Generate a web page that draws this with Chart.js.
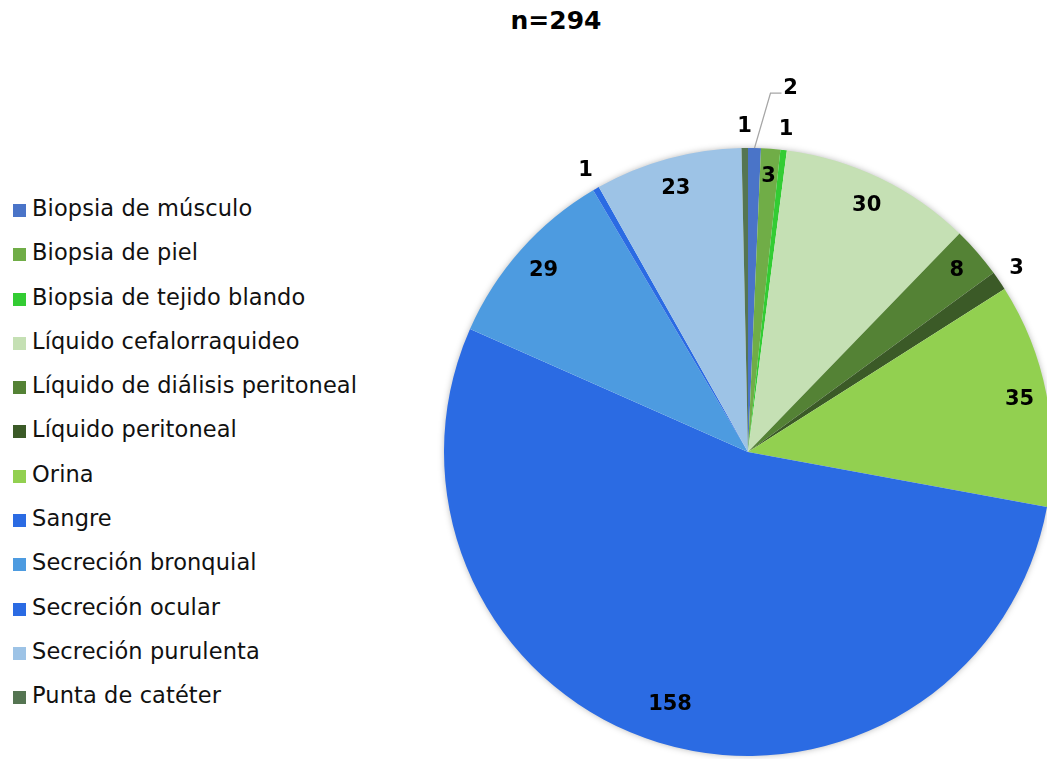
<!DOCTYPE html>
<html lang="es">
<head>
<meta charset="utf-8">
<title>Muestras</title>
<script src="https://cdn.jsdelivr.net/npm/chart.js@4.4.1/dist/chart.umd.min.js"></script>
<style>
  html, body { margin: 0; padding: 0; background: #fff; overflow: hidden; }
  body { width: 1047px; height: 759px; position: relative; font-family: "DejaVu Sans", sans-serif; }
  #chart { position: absolute; left: 0; top: 0; }
  #title { position: absolute; top: 6px; left: 456px; width: 200px; text-align: center;
           font-weight: bold; font-size: 25px; color: #000; }
  #legend { position: absolute; left: 13px; top: 186px; list-style: none; margin: 0; padding: 0; }
  #legend li { height: 44.3px; line-height: 44.3px; font-size: 22.5px; letter-spacing: 0.1px; color: #111; white-space: nowrap; }
  #legend span.box { display: inline-block; width: 13px; height: 13px; margin-right: 6px; vertical-align: -1px; }
</style>
</head>
<body>
<div id="title">n=294</div>
<ul id="legend"></ul>
<canvas id="chart" width="1100" height="759"></canvas>
<script>
  // tipos de muestra y número de aislamientos
  const sampleTypes = [
    "Biopsia de músculo",
    "Biopsia de piel",
    "Biopsia de tejido blando",
    "Líquido cefalorraquideo",
    "Líquido de diálisis peritoneal",
    "Líquido peritoneal",
    "Orina",
    "Sangre",
    "Secreción bronquial",
    "Secreción ocular",
    "Secreción purulenta",
    "Punta de catéter",
  ];
  const counts = [2, 3, 1, 30, 8, 3, 35, 158, 29, 1, 23, 1];
  const sliceColors = [
    "#4a74c8", "#70ad47", "#33cc33", "#c5e0b4", "#548235", "#3b5a27",
    "#92d050", "#2b6be3", "#4d9be0", "#2b6be3", "#9dc3e6", "#557552",
  ];
  // where each value label goes: inside the slice, just outside, or with a leader line
  const labelPlace = ["callout", "in", "out", "in", "in", "out", "in", "in", "in", "out", "in", "out"];
  const labelDist = [0, 0.91, 0, 0.9, 0.91, 0, 0.91, 0.87, 0.9, 0, 0.9, 0];

  // legend
  const legend = document.getElementById("legend");
  sampleTypes.forEach((name, i) => {
    const li = document.createElement("li");
    const box = document.createElement("span");
    box.className = "box";
    box.style.background = sliceColors[i];
    li.appendChild(box);
    li.appendChild(document.createTextNode(name));
    legend.appendChild(li);
  });

  // soft shadow under the pie
  const pieShadow = {
    id: "pieShadow",
    beforeDatasetsDraw(chart) {
      const arc = chart.getDatasetMeta(0).data[0];
      if (!arc) return;
      const { ctx } = chart;
      ctx.save();
      ctx.shadowColor = "rgba(0,0,0,0.35)";
      ctx.shadowBlur = 7;
      ctx.fillStyle = "#fff";
      ctx.beginPath();
      ctx.arc(arc.x, arc.y, arc.outerRadius - 1, 0, Math.PI * 2);
      ctx.fill();
      ctx.restore();
    },
  };

  // value labels
  const sliceLabels = {
    id: "sliceLabels",
    afterDatasetsDraw(chart) {
      const { ctx } = chart;
      const meta = chart.getDatasetMeta(0);
      ctx.save();
      ctx.font = "bold 21px 'DejaVu Sans'";
      ctx.fillStyle = "#000";
      ctx.textAlign = "center";
      ctx.textBaseline = "middle";
      meta.data.forEach((arc, i) => {
        const { x, y, startAngle, endAngle, outerRadius } = arc;
        const mid = (startAngle + endAngle) / 2;
        const text = String(counts[i]);
        const place = labelPlace[i];
        if (place === "callout") {
          const x0 = x + Math.cos(mid) * outerRadius;
          const y0 = y + Math.sin(mid) * outerRadius;
          const x1 = x0 + 16, y1 = y0 - 55;
          ctx.strokeStyle = "#a6a6a6";
          ctx.lineWidth = 1.3;
          ctx.beginPath();
          ctx.moveTo(x0, y0);
          ctx.lineTo(x1, y1);
          ctx.lineTo(x1 + 11, y1);
          ctx.stroke();
          ctx.fillText(text, x1 + 20, y1 - 5);
        } else {
          const d = place === "out" ? outerRadius + 21 : outerRadius * labelDist[i];
          ctx.fillText(text, x + Math.cos(mid) * d, y + Math.sin(mid) * d);
        }
      });
      ctx.restore();
    },
  };

  new Chart(document.getElementById("chart"), {
    type: "pie",
    data: {
      labels: sampleTypes,
      datasets: [
        {
          data: counts,
          backgroundColor: sliceColors,
          borderWidth: 0,
          hoverOffset: 0,
        },
      ],
    },
    options: {
      responsive: false,
      animation: false,
      layout: { padding: { left: 444, top: 148, right: 48, bottom: 3 } },
      plugins: {
        legend: { display: false },
        tooltip: { enabled: false },
      },
    },
    plugins: [pieShadow, sliceLabels],
  });
</script>
</body>
</html>
